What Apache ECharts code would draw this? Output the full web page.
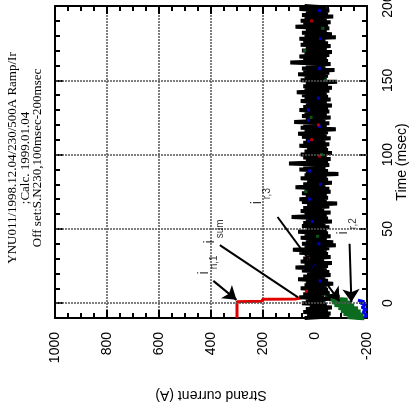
<!DOCTYPE html>
<html>
<head>
<meta charset="utf-8">
<script src="https://cdn.jsdelivr.net/npm/echarts@6/dist/echarts.min.js"></script>
<style>
  html, body { margin: 0; padding: 0; background: #fff; }
  #chart { width: 410px; height: 409px; }
</style>
</head>
<body>
<div id="chart"></div>
<script>
// strand current (A) per ms, from t = -10 msec to 200 msec
const tStart = -10;
const blackCurrent = [
  40,-55,30,-60,45,-50,35,-65,20,-45,
  50,-40,35,-60,60,-35,45,-55,30,-50,
  55,-45,40,-70,35,-50,65,-40,45,-60,
  30,-55,50,-45,75,-50,40,-65,55,-35,
  45,-60,30,-50,60,-45,85,-55,40,-80,
  50,-70,35,-45,55,-60,40,-50,65,-45,
  30,-55,50,-40,45,-65,35,-50,90,-45,
  40,-60,55,-35,45,-55,30,-85,50,-45,
  60,-50,35,-45,50,-60,40,-55,75,-40,
  45,-65,30,-50,55,-45,40,-90,35,-50,
  60,-40,45,-55,100,-50,35,-60,45,-45,
  55,-65,40,-50,30,-45,60,-55,45,-40,
  35,-60,50,-45,65,-50,40,-80,55,-45,
  45,-55,80,-40,35,-60,50,-45,40,-55,
  60,-50,45,-65,35,-45,55,-60,40,-50,
  50,-45,70,-55,40,-65,45,-50,35,-85,
  55,-45,40,-50,65,-55,45,-75,50,-40,
  35,-60,95,-50,45,-45,60,-55,40,-65,
  50,-45,35,-60,55,-50,45,-40,60,-80,
  40,-65,50,-45,35,-55,75,-50,45,-60,
  55,-45,40,-70,50,-50,35,-55,60,-45,
  40
];

// [current, time]
const redPath = [[300,-10],[300,1],[205,1.2],[200,2.7],[75,2.8],[45,4],[25,6],[35,8],[10,10]];
const greenPath = [[-30,7],[-55,6],[-40,5],[-95,4],[-55,3],[-125,2],[-65,1],[-140,0],[-75,-1],[-150,-2],
  [-90,-3],[-165,-4],[-100,-5],[-175,-6],[-110,-7],[-185,-8],[-125,-9],[-190,-10]];
const bluePath = [[-165,2],[-190,1],[-175,0],[-195,-1],[-180,-3],[-197,-4],[-185,-6],[-198,-8],[-190,-10]];

const blueDots = [[-17,197],[-21,178],[-17,158],[-13,138],[25,130],[25,123],[-17,119],[25,109],
  [21,89],[-21,80],[21,70],[10,55],[-15,40],[5,25],[-20,15]];
const redDots = [[13,190],[-13,120],[13,110],[-17,99],[25,30],[33,8]];
const greenDots = [[-30,185],[40,170],[-40,150],[15,125],[-25,100],[35,75],[-10,45]];

const currentTicks = { min: -200, max: 1000 };
const timeTicks = { min: -10, max: 200 };
const timeMajor = [0, 50, 100, 150, 200];
const timeGrid = [0, 50, 100, 150];

const titleLines = [
  'YNU011/1998.12.04/230/500A Ramp/Ir',
  ';Calc. 1999.01.04',
  'Off set:S.N230,100msec-200msec'
];

// arrows: [from, to] as [current, time]
const arrows = [
  [[391,15],[302,2.2]],
  [[144,58],[-94,1.4]],
  [[-133,40],[-140,0.7]]
];
const plainLines = [
  [[366,39],[65,3.9]]
];
const notes = [
  { pos: [411,25.7], i: 'i', sub: 'n,1' },
  { pos: [388,48.3], i: 'i', sub: 'sum' },
  { pos: [206,72], i: 'i', sub: 'r,3' },
  { pos: [-125,51.7], i: 'i', sub: 'r,2' }
];

let blackData = blackCurrent.map((v, i) => [v, tStart + i]);

let font = 'Liberation Sans, Arial, sans-serif';
let tickStyle = { color: '#000', width: 2 };

function xAx(pos, interval, len, main) {
  return {
    type: 'value', position: pos, inverse: true,
    min: currentTicks.min, max: currentTicks.max, interval: interval,
    axisLine: { show: main, onZero: false, lineStyle: { color: '#000', width: 2 } },
    axisTick: { show: true, inside: true, length: len, lineStyle: tickStyle },
    axisLabel: {
      show: main && pos === 'bottom', rotate: 90, fontSize: 14, color: '#000', fontFamily: font, margin: 14,
      formatter: function (v) { return String(v); }
    },
    splitLine: { show: main && pos === 'bottom', lineStyle: { color: '#555', width: 1.5, type: [2, 1] } },
    name: (main && pos === 'bottom') ? 'Strand current (A)' : '',
    nameLocation: 'middle', nameRotate: 180, nameGap: 70, nameMoveOverlap: false,
    nameTextStyle: { fontSize: 14, color: '#000', fontFamily: font }
  };
}
function yAx(pos, major) {
  return {
    type: 'value', position: pos,
    min: timeTicks.min, max: timeTicks.max, interval: 10,
    axisLine: { show: !major, onZero: false, lineStyle: { color: '#000', width: 2 } },
    axisTick: major
      ? { show: true, inside: true, length: 8, lineStyle: tickStyle, customValues: timeMajor }
      : { show: true, inside: true, length: 5, lineStyle: tickStyle },
    axisLabel: {
      show: !major && pos === 'right', rotate: 90, fontSize: 14, color: '#000', fontFamily: font, margin: 14,
      formatter: function (v) { return v % 50 === 0 ? String(v) : ''; }
    },
    splitLine: { show: false },
    name: (!major && pos === 'right') ? 'Time (msec)' : '',
    nameLocation: 'middle', nameRotate: 90, nameGap: 28, nameMoveOverlap: false,
    nameTextStyle: { fontSize: 14, color: '#000', fontFamily: font }
  };
}

let myChart = echarts.init(document.getElementById('chart'), null, { renderer: 'canvas' });
let option = {
  backgroundColor: '#fff',
  animation: false,
  grid: { left: 55, right: 43, top: 6, bottom: 91, containLabel: false, outerBoundsMode: 'none' },
  graphic: titleLines.map((t, i) => ({
    type: 'text', x: 13 + i * 12.5, y: 158, rotation: Math.PI / 2,
    style: { text: t, font: '13px "Liberation Serif", "Times New Roman", serif', fill: '#000', textAlign: 'center', textVerticalAlign: 'middle' }
  })),
  xAxis: [
    xAx('bottom', 200, 8, true),
    xAx('bottom', 50, 5, false),
    xAx('top', 200, 8, true),
    xAx('top', 50, 5, false)
  ],
  yAxis: [
    yAx('right', false),
    yAx('right', true),
    yAx('left', false),
    yAx('left', true)
  ],
  series: [
    {
      name: 'grid', type: 'line', data: [], z: 1, silent: true,
      markLine: {
        silent: true, symbol: 'none', label: { show: false },
        lineStyle: { color: '#555', width: 1.5, type: [2, 1] },
        data: timeGrid.map(v => ({ yAxis: v }))
      }
    },
    {
      name: 'red', type: 'line', data: redPath, z: 2, showSymbol: false,
      lineStyle: { color: '#e00000', width: 3 }
    },
    {
      name: 'green', type: 'line', data: greenPath, z: 2, showSymbol: false,
      lineStyle: { color: '#0b6b1f', width: 5 }
    },
    {
      name: 'blue', type: 'line', data: bluePath, z: 2, showSymbol: false,
      lineStyle: { color: '#0000ee', width: 3 }
    },
    {
      name: 'black', type: 'line', data: blackData, z: 3, showSymbol: false,
      lineStyle: { color: '#000', width: 4 }
    },
    { type: 'scatter', data: blueDots, z: 4, symbol: 'rect', symbolSize: 3, itemStyle: { color: '#0000ee' } },
    { type: 'scatter', data: redDots, z: 4, symbol: 'rect', symbolSize: 3, itemStyle: { color: '#e00000' } },
    { type: 'scatter', data: greenDots, z: 4, symbol: 'rect', symbolSize: 3, itemStyle: { color: '#0b6b1f' } },
    {
      name: 'arrows', type: 'line', data: [], z: 5, silent: true,
      markLine: {
        silent: true, symbol: ['none', 'arrow'], symbolSize: 13, label: { show: false },
        lineStyle: { color: '#000', width: 2, type: 'solid' },
        data: arrows.map(a => [{ coord: a[0] }, { coord: a[1] }])
          .concat(plainLines.map(a => [{ coord: a[0], symbol: 'none' }, { coord: a[1], symbol: 'none' }]))
      }
    },
    {
      name: 'notes', type: 'scatter', z: 5, symbolSize: 0, silent: true,
      data: notes.map(n => ({
        value: n.pos,
        label: { formatter: '{i|' + n.i + '}{s|' + n.sub + '}' }
      })),
      label: {
        show: true, position: 'inside', rotate: 90, color: '#000',
        rich: {
          i: { fontSize: 14, fontFamily: font, color: '#000', lineHeight: 22, verticalAlign: 'top' },
          s: { fontSize: 10, fontFamily: font, color: '#000', lineHeight: 22, verticalAlign: 'bottom', padding: [0, 0, 0, 2] }
        }
      }
    }
  ]
};
myChart.setOption(option);
</script>
</body>
</html>
